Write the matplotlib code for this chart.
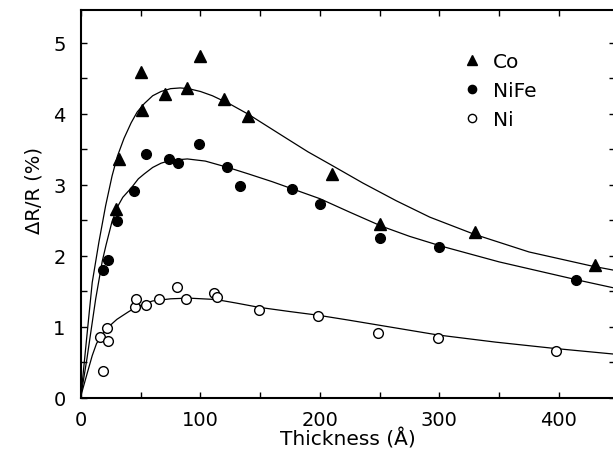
import matplotlib
matplotlib.use("Agg")
import matplotlib.pyplot as plt
from matplotlib.ticker import MultipleLocator

# ---- data ----
co_x = [29, 32, 50, 51, 70, 89, 100, 120, 140, 210, 250, 330, 430]
co_y = [2.65, 3.36, 4.58, 4.05, 4.27, 4.36, 4.81, 4.20, 3.97, 3.15, 2.45, 2.33, 1.86]

nife_x = [18, 23, 30, 44, 54, 74, 81, 99, 122, 133, 177, 200, 250, 300, 414]
nife_y = [1.80, 1.94, 2.48, 2.91, 3.43, 3.36, 3.30, 3.57, 3.24, 2.98, 2.93, 2.72, 2.24, 2.12, 1.65]

ni_x = [18, 16, 22, 23, 45, 46, 54, 65, 80, 88, 111, 114, 149, 198, 249, 299, 398]
ni_y = [0.38, 0.85, 0.98, 0.79, 1.27, 1.39, 1.30, 1.39, 1.55, 1.39, 1.47, 1.41, 1.23, 1.15, 0.91, 0.84, 0.65]

# fitted curves
co_fit_x = [0, 5, 9.4, 15, 20.6, 26, 30.5, 36, 42, 47, 53, 60, 67, 75, 83, 90, 100, 110,
            125, 140, 156, 172, 190, 210, 236, 264, 292, 329, 375, 428, 447]
co_fit_y = [0.03, 0.88, 1.62, 2.19, 2.70, 3.12, 3.40, 3.65, 3.87, 4.02, 4.14, 4.25, 4.31,
            4.35, 4.36, 4.35, 4.31, 4.25, 4.13, 3.99, 3.82, 3.65, 3.46, 3.27, 3.02, 2.77,
            2.54, 2.30, 2.05, 1.85, 1.79]

nife_fit_x = [0, 5, 12.3, 17.8, 21, 26, 31, 35, 42, 48, 53, 60, 67, 75, 89, 104, 123,
              140, 160, 180, 200, 225, 252, 275, 302, 350, 417, 447]
nife_fit_y = [0.03, 0.55, 1.39, 1.92, 2.15, 2.48, 2.70, 2.82, 2.95, 3.08, 3.15, 3.24, 3.30,
              3.34, 3.36, 3.33, 3.24, 3.15, 3.04, 2.92, 2.80, 2.61, 2.41, 2.27, 2.13, 1.91,
              1.65, 1.54]

ni_fit_x = [0, 5, 9.4, 13, 17.8, 22, 26, 30, 34.5, 40, 46, 53, 60, 75, 90, 113, 130, 149,
            175, 198, 224, 249, 274, 299, 347, 397, 447]
ni_fit_y = [0.03, 0.33, 0.59, 0.76, 0.89, 0.97, 1.04, 1.10, 1.15, 1.21, 1.27, 1.32, 1.36,
            1.39, 1.40, 1.38, 1.33, 1.27, 1.21, 1.16, 1.09, 1.02, 0.95, 0.88, 0.78, 0.69,
            0.61]

labels = ["Co", "NiFe", "Ni"]
x_ticks = [0, 100, 200, 300, 400]
y_ticks = [0, 1, 2, 3, 4, 5]

plt.rcParams["font.family"] = ["DejaVu Sans"]

W, H = 613, 460
fig = plt.figure(figsize=(W / 100, H / 100), dpi=100)
left, right, top, bottom = 81, 615, 11, 398.5
ax = fig.add_axes([left / W, 1 - bottom / H, (right - left) / W, (bottom - top) / H])

lw_fit = 0.9
ax.plot(co_fit_x, co_fit_y, color="black", lw=lw_fit, zorder=2)
ax.plot(nife_fit_x, nife_fit_y, color="black", lw=lw_fit, zorder=2)
ax.plot(ni_fit_x, ni_fit_y, color="black", lw=lw_fit, zorder=2)

ax.plot(co_x, co_y, linestyle="none", marker="^", ms=8, color="black", label=labels[0], zorder=3)
ax.plot(nife_x, nife_y, linestyle="none", marker="o", ms=7, color="black", label=labels[1], zorder=3)
ax.plot(ni_x, ni_y, linestyle="none", marker="o", ms=7, mfc="white", mec="black", mew=1.0,
        label=labels[2], zorder=3)

ax.set_xlim(0, 447)
ax.set_ylim(0, (bottom - top) / 71.0)
ax.set_xticks(x_ticks)
ax.set_yticks(y_ticks)
ax.xaxis.set_minor_locator(MultipleLocator(50))
ax.yaxis.set_minor_locator(MultipleLocator(0.5))
ax.tick_params(which="both", direction="in", length=4.5, width=1.0, top=True, right=True)
ax.tick_params(axis="x", which="major", labelsize=14, pad=9)
ax.tick_params(axis="y", which="major", labelsize=14, pad=11)
for s in ax.spines.values():
    s.set_linewidth(1.5)

ax.set_xlabel("Thickness (Å)", fontsize=14.5)
ax.set_ylabel("ΔR/R (%)", fontsize=14)
ax.xaxis.set_label_coords(0.5, (bottom - 429) / (bottom - top))
ax.yaxis.set_label_coords((44 - left) / (right - left), (bottom - 190) / (bottom - top))

leg = ax.legend(loc="upper left", bbox_to_anchor=(466 / W, 1 - 53 / H),
                bbox_transform=fig.transFigure, frameon=False, fontsize=14.5,
                handlelength=0.6, handletextpad=0.75, labelspacing=0.5,
                borderpad=0, borderaxespad=0, markerscale=0.85)

fig.savefig("out.png", dpi=100)
